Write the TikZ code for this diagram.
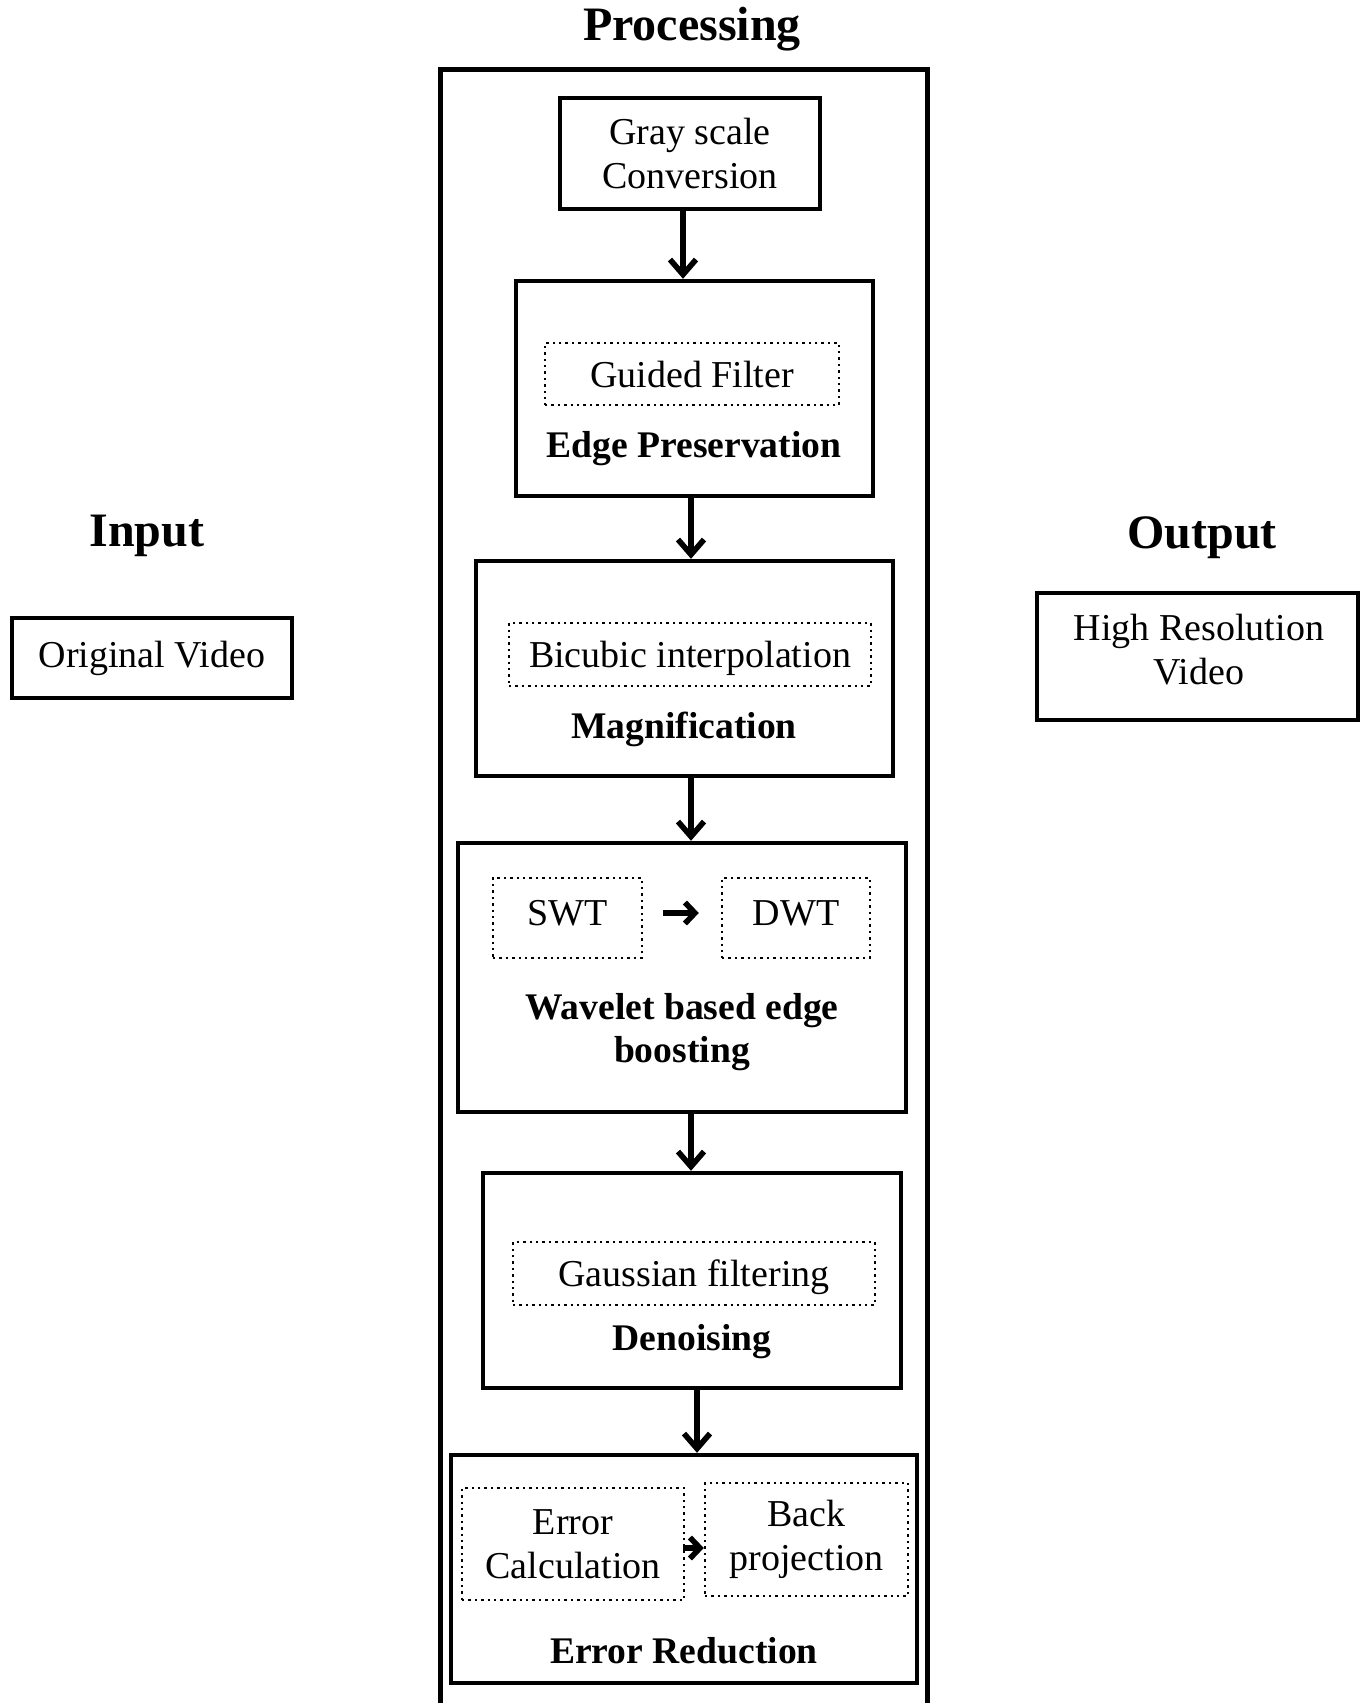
\documentclass[tikz,border=0pt]{standalone}
\usepackage{fontspec}
\setmainfont{Liberation Serif}
\usetikzlibrary{arrows.meta}
\begin{document}
\begin{tikzpicture}[x=0.5pt,y=-0.5pt,
  txt/.style={font=\fontsize{19}{22}\selectfont, align=center, inner sep=0pt},
  bold/.style={font=\fontsize{18.8}{21.5}\selectfont\bfseries, align=center, inner sep=0pt},
  title/.style={font=\fontsize{24}{28}\selectfont\bfseries, inner sep=0pt},
  stage/.style={draw, line width=2.2pt, inner sep=0pt},
  sub/.style={draw, line width=1.2pt, dotted, inner sep=0pt, font=\fontsize{19}{22}\selectfont, align=center},
  arr/.style={line width=2.8pt, -{Straight Barb[length=7.5pt,width=13pt,line width=2.8pt]}},
  sarr/.style={line width=2.8pt, -{Straight Barb[length=5pt,width=10.5pt,line width=2.8pt]}}]
\useasboundingbox (0,0) rectangle (1366,1703);

% column headings
\node[title] (tproc) at (692,29) {Processing};
\node[title] (tin) at (147,536) {Input};
\node[title] (tout) at (1202,538) {Output};

% processing frame (runs off the lower edge)
\begin{scope}
\clip (0,0) rectangle (1366,1703);
\draw[line width=2.5pt] (440,1730) -- (440,69) -- (927,69) -- (927,1730);
\end{scope}

% input and output
\node[stage, txt, draw, line width=2.2pt, minimum width=140pt, minimum height=40pt] (orig) at (152,658) {Original Video};
\node[stage, minimum width=160.5pt, minimum height=63.5pt] (hires) at (1197.5,656.5) {};
\node[txt] (hireslbl) at (1199,650) {High Resolution\\Video};

% processing stages
\node[stage, txt, minimum width=130pt, minimum height=55.5pt] (gray) at (690,153.5) {Gray scale\\Conversion};

\node[stage, minimum width=178.5pt, minimum height=107.5pt] (edge) at (694.5,388.5) {};
\node[sub, minimum width=147pt, minimum height=31pt] (guided) at (692,374) {Guided Filter};
\node[bold] (edgelbl) at (694,449) {Edge Preservation};

\node[stage, minimum width=208.5pt, minimum height=107.5pt] (mag) at (684.5,668.5) {};
\node[sub, minimum width=181pt, minimum height=31.5pt] (bicubic) at (690,654.5) {};
\node[txt, yshift=-2pt] (bicubiclbl) at (bicubic.center) {Bicubic interpolation};
\node[bold] (maglbl) at (684,729) {Magnification};

\node[stage, minimum width=224pt, minimum height=134.5pt] (wave) at (682,977.5) {};
\node[sub, minimum width=74.5pt, minimum height=40pt] (swt) at (567.5,918) {};
\node[txt] (swtlbl) at (567.5,913) {SWT};
\node[sub, minimum width=74pt, minimum height=40pt] (dwt) at (796,918) {};
\node[txt] (dwtlbl) at (796,913) {DWT};
\node[bold] (wavelbl) at (682,1032) {Wavelet based edge\\boosting};

\node[stage, minimum width=209pt, minimum height=107.5pt] (den) at (692,1280.5) {};
\node[sub, minimum width=181pt, minimum height=31.5pt] (gauss) at (694,1273.5) {};
\node[txt, yshift=-2pt] (gausslbl) at (gauss.center) {Gaussian filtering};
\node[bold] (denlbl) at (692,1342) {Denoising};

\node[stage, minimum width=233pt, minimum height=114pt] (err) at (684,1569) {};
\node[sub, minimum width=111pt, minimum height=56pt] (ecalc) at (573,1544) {Error\\Calculation};
\node[sub, minimum width=101.5pt, minimum height=56.5pt] (bproj) at (806.5,1539.5) {Back\\projection};
\node[bold] (errlbl) at (684,1651) {Error Reduction};

% flow between stages
\draw[arr] (gray.south -| 683,0) -- (edge.north -| 683,0);
\draw[arr] (edge.south -| 691,0) -- (mag.north -| 691,0);
\draw[arr] (mag.south -| 691,0) -- (wave.north -| 691,0);
\draw[arr] (wave.south -| 691,0) -- (den.north -| 691,0);
\draw[arr] (den.south -| 697,0) -- (err.north -| 697,0);

% flow inside stages
\draw[sarr, shorten <=10pt, shorten >=11pt] (swt.east |- 0,913) -- (dwt.west |- 0,913);
\draw[sarr, shorten <=-1pt, shorten >=0pt] (ecalc.east |- 0,1548) -- (bproj.west |- 0,1548);
\end{tikzpicture}
\end{document}
